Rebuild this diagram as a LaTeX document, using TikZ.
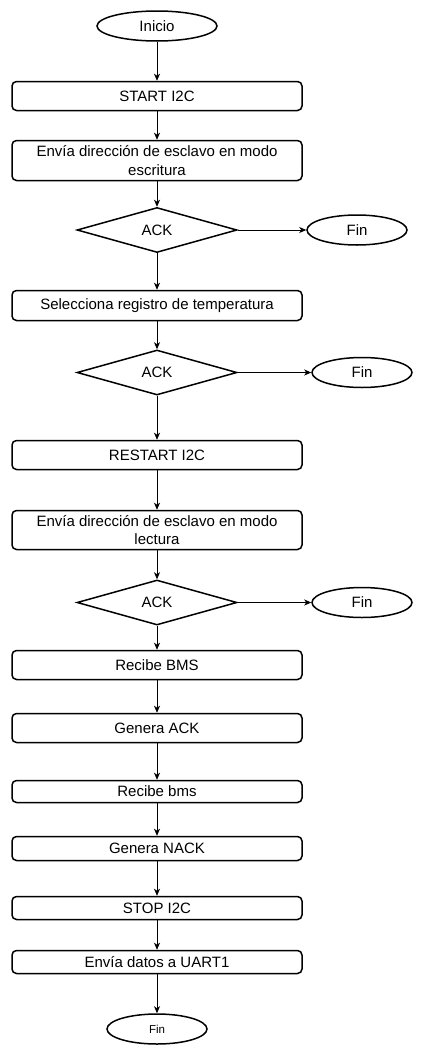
\documentclass[tikz,border=0pt]{standalone}
\usepackage{fontspec}
\setmainfont{Liberation Sans}
\usetikzlibrary{shapes.geometric,arrows.meta}
\tikzset{
  procbox/.style={draw, line width=1.5pt, rounded corners=4.5pt, minimum width=290pt, inner sep=0pt, align=center, font=\fontsize{15}{18.5}\selectfont},
  termnode/.style={draw, ellipse, line width=1.5pt, inner sep=0pt, font=\fontsize{15}{18.5}\selectfont},
  decnode/.style={draw, diamond, line width=1.5pt, inner sep=0pt, minimum width=160pt, minimum height=45pt, aspect=3.5, font=\fontsize{15}{18.5}\selectfont},
  flow/.style={line width=0.9pt, -{Stealth[length=7pt,width=6pt,inset=2pt]}}
}
\begin{document}
\begin{tikzpicture}[x=1pt,y=-1pt]
\useasboundingbox (0,0) rectangle (424,1055);
\node[termnode, minimum width=120pt, minimum height=30pt] (inicio) at (157,26) {Inicio};
\node[procbox, minimum height=29pt] (start) at (157,96) {START I2C};
\node[procbox, minimum height=40pt] (dirw) at (157,160.5) {Envía dirección de esclavo en modo\\escritura};
\node[decnode] (ack1) at (157,230) {ACK};
\node[termnode, minimum width=100pt, minimum height=30pt] (fin1) at (357,230) {Fin};
\node[procbox, minimum height=30pt] (sel) at (157,305.5) {Selecciona registro de temperatura};
\node[decnode] (ack2) at (157,372.5) {ACK};
\node[termnode, minimum width=100pt, minimum height=30pt] (fin2) at (362,372.5) {Fin};
\node[procbox, minimum height=29pt] (restart) at (157,455) {RESTART I2C};
\node[procbox, minimum height=39pt] (dirr) at (157,530) {Envía dirección de esclavo en modo\\lectura};
\node[decnode] (ack3) at (157,602.5) {ACK};
\node[termnode, minimum width=100pt, minimum height=30pt] (fin3) at (362,602.5) {Fin};
\node[procbox, minimum height=29pt] (rbms) at (157,665) {Recibe BMS};
\node[procbox, minimum height=29pt] (gack) at (157,728) {Genera ACK};
\node[procbox, minimum height=22pt] (rbms2) at (157,791.5) {Recibe bms};
\node[procbox, minimum height=24pt] (gnack) at (157,848.5) {Genera NACK};
\node[procbox, minimum height=23pt] (stop) at (157,908) {STOP I2C};
\node[procbox, minimum height=23pt] (uart) at (157,962) {Envía datos a UART1};
\node[termnode, minimum width=100pt, minimum height=30pt, font=\fontsize{11.5}{14}\selectfont] (fin) at (157,1029) {Fin};
\draw[flow] (inicio) -- (start);
\draw[flow] (start) -- (dirw);
\draw[flow] (dirw) -- (ack1);
\draw[flow] (ack1.east) -- (fin1.west);
\draw[flow] (ack1) -- (sel);
\draw[flow] (sel) -- (ack2);
\draw[flow] (ack2.east) -- (fin2.west);
\draw[flow] (ack2) -- (restart);
\draw[flow] (restart) -- (dirr);
\draw[flow] (dirr) -- (ack3);
\draw[flow] (ack3.east) -- (fin3.west);
\draw[flow] (ack3) -- (rbms);
\draw[flow] (rbms) -- (gack);
\draw[flow] (gack) -- (rbms2);
\draw[flow] (rbms2) -- (gnack);
\draw[flow] (gnack) -- (stop);
\draw[flow] (stop) -- (uart);
\draw[flow] (uart) -- (fin);
\end{tikzpicture}
\end{document}
